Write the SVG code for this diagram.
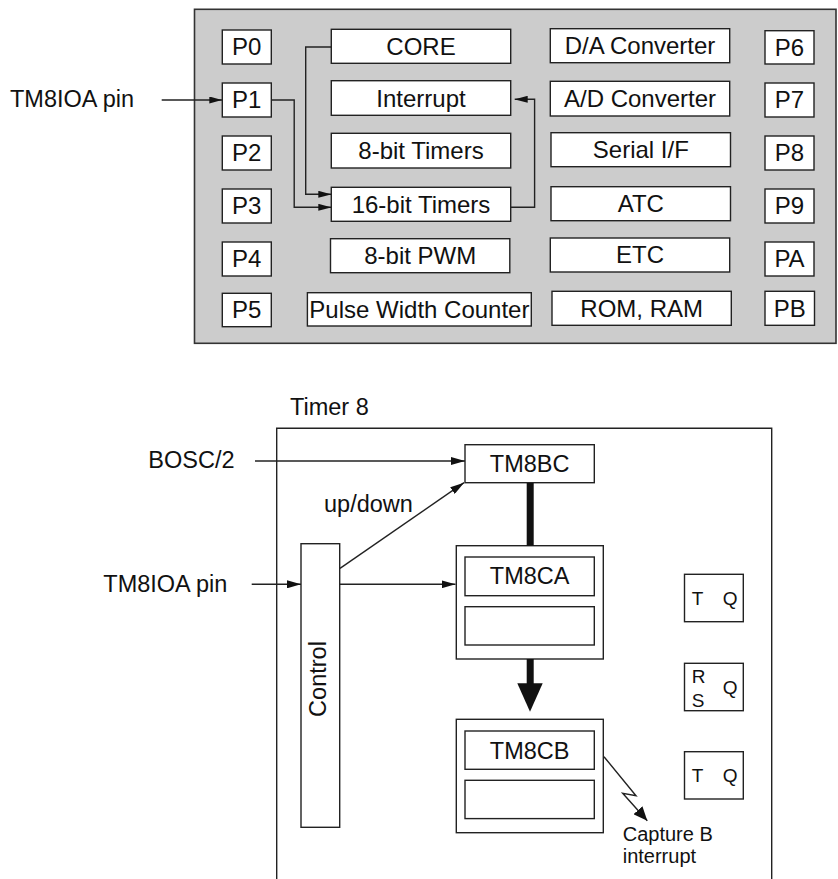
<svg xmlns="http://www.w3.org/2000/svg" width="838" height="879" viewBox="0 0 838 879">
<defs>
<style>
text{font-family:"Liberation Sans",Arial,sans-serif;fill:#111}
.t{font-size:24px;text-anchor:middle}
.b{font-size:23.5px;text-anchor:middle}
.l{font-size:23.5px}
.s{font-size:19px}
.c{font-size:20px}
.box{fill:#fff;stroke:#222;stroke-width:1.4}
.ln{fill:none;stroke:#222;stroke-width:1.4}
</style>
<marker id="ah" markerUnits="userSpaceOnUse" viewBox="0 0 14 8" refX="14" refY="4" markerWidth="14" markerHeight="8" orient="auto"><path d="M0,0 L14,4 L0,8 z" fill="#111"/></marker>
<marker id="ahs" markerUnits="userSpaceOnUse" viewBox="0 0 13 7" refX="13" refY="3.5" markerWidth="13" markerHeight="7" orient="auto"><path d="M0,0 L13,3.5 L0,7 z" fill="#111"/></marker>
<marker id="ahb" markerUnits="userSpaceOnUse" viewBox="0 0 14 12" refX="14" refY="6" markerWidth="14" markerHeight="12" orient="auto"><path d="M0,0 L14,6 L0,12 z" fill="#111"/></marker>
</defs>

<g id="panel">
<rect x="194.5" y="9.3" width="641.5" height="334" fill="#ccc" stroke="#333" stroke-width="1.6"/>
</g>

<g id="P0"><rect class="box" x="222.3" y="30" width="49" height="34"/><text class="t" x="246.8" y="55">P0</text></g>
<g id="P1"><rect class="box" x="222.3" y="83" width="49" height="34"/><text class="t" x="246.8" y="108">P1</text></g>
<g id="P2"><rect class="box" x="222.3" y="136" width="49" height="34"/><text class="t" x="246.8" y="161">P2</text></g>
<g id="P3"><rect class="box" x="222.3" y="189" width="49" height="34"/><text class="t" x="246.8" y="214">P3</text></g>
<g id="P4"><rect class="box" x="222.3" y="242" width="49" height="34"/><text class="t" x="246.8" y="267">P4</text></g>
<g id="P5"><rect class="box" x="222.3" y="293.3" width="49" height="33.4"/><text class="t" x="246.8" y="318">P5</text></g>

<g id="CORE"><rect class="box" x="331.3" y="29.3" width="179.4" height="34"/><text class="t" x="421" y="54.5">CORE</text></g>
<g id="Interrupt"><rect class="box" x="331.3" y="80.7" width="179.4" height="34.6"/><text class="t" x="421" y="106.5">Interrupt</text></g>
<g id="Timers8"><rect class="box" x="331.3" y="133.3" width="179.4" height="34.7"/><text class="t" x="421" y="159">8-bit Timers</text></g>
<g id="Timers16"><rect class="box" x="331.3" y="187.3" width="179.4" height="34"/><text class="t" x="421" y="212.5">16-bit Timers</text></g>
<g id="PWM"><rect class="box" x="330.5" y="238.7" width="179.3" height="34"/><text class="t" x="420.2" y="264">8-bit PWM</text></g>
<g id="PWC"><rect class="box" x="307.4" y="292.7" width="223.9" height="33.3"/><text class="t" x="419.4" y="317.7">Pulse Width Counter</text></g>

<g id="DA"><rect class="box" x="550.3" y="28.7" width="179.4" height="34"/><text class="t" x="640" y="54">D/A Converter</text></g>
<g id="AD"><rect class="box" x="550.3" y="81.3" width="179.4" height="34.7"/><text class="t" x="640" y="107">A/D Converter</text></g>
<g id="Serial"><rect class="box" x="551" y="132.7" width="179.5" height="34"/><text class="t" x="640.8" y="158">Serial I/F</text></g>
<g id="ATC"><rect class="box" x="551" y="186.7" width="179.5" height="34"/><text class="t" x="640.8" y="212">ATC</text></g>
<g id="ETC"><rect class="box" x="550.3" y="238" width="179.4" height="34"/><text class="t" x="640" y="263.3">ETC</text></g>
<g id="ROMRAM"><rect class="box" x="552" y="291.3" width="179.3" height="34"/><text class="t" x="641.7" y="316.5">ROM, RAM</text></g>

<g id="P6"><rect class="box" x="765" y="30.7" width="49" height="33.3"/><text class="t" x="789.5" y="55.5">P6</text></g>
<g id="P7"><rect class="box" x="765" y="83" width="49" height="34"/><text class="t" x="789.5" y="108">P7</text></g>
<g id="P8"><rect class="box" x="765" y="136" width="49" height="34"/><text class="t" x="789.5" y="161">P8</text></g>
<g id="P9"><rect class="box" x="765" y="189" width="49" height="34"/><text class="t" x="789.5" y="214">P9</text></g>
<g id="PA"><rect class="box" x="765" y="242" width="49" height="34"/><text class="t" x="789.5" y="267">PA</text></g>
<g id="PB"><rect class="box" x="765" y="291.3" width="49.5" height="34"/><text class="t" x="789.8" y="316.5">PB</text></g>

<g id="label-top"><text class="l" x="10" y="106.7">TM8IOA pin</text></g>

<g id="frame"><path class="ln" d="M276.7,890 V428.3 H771.7 V890"/><text class="l" x="290" y="415">Timer 8</text></g>
<g id="BOSC"><text class="l" x="148.3" y="468.3">BOSC/2</text></g>
<g id="label-bottom"><text class="l" x="103.3" y="591.7">TM8IOA pin</text></g>
<g id="updown"><text class="l" x="324" y="511.7">up/down</text></g>

<g id="TM8BC"><rect class="box" x="465" y="444.7" width="129.3" height="38"/><text class="b" x="529.7" y="472">TM8BC</text></g>
<g id="Control"><rect class="box" x="301" y="543.7" width="38.7" height="283.6"/><text class="b" transform="translate(326,679) rotate(-90)" x="0" y="0">Control</text></g>
<g id="TM8CA"><rect class="box" x="456.3" y="545.7" width="147" height="113.3"/><rect class="box" x="465" y="557" width="129.3" height="38.7"/><rect class="box" x="465" y="606.7" width="129.3" height="38.3"/><text class="b" x="529.7" y="584.3">TM8CA</text></g>
<g id="TM8CB"><rect class="box" x="456.3" y="719.3" width="147" height="113.4"/><rect class="box" x="465" y="731" width="129.3" height="38.3"/><rect class="box" x="465" y="780.3" width="129.3" height="38.3"/><text class="b" x="529.7" y="759.3">TM8CB</text></g>
<g id="TQ1"><rect class="box" x="684.5" y="574.3" width="58.8" height="47.4"/><text class="s" x="691.7" y="605">T</text><text class="s" x="722.7" y="605">Q</text></g>
<g id="RSQ"><rect class="box" x="684.5" y="663.3" width="58.8" height="47.4"/><text class="s" x="691.7" y="683.3">R</text><text class="s" x="691.7" y="706.7">S</text><text class="s" x="722.7" y="694.3">Q</text></g>
<g id="TQ2"><rect class="box" x="684.5" y="751.7" width="58.8" height="47.3"/><text class="s" x="691.7" y="781.7">T</text><text class="s" x="722.7" y="781.7">Q</text></g>
<g id="capture"><text class="c" x="622.7" y="840.5">Capture B</text><text class="c" x="622.7" y="863">interrupt</text></g>

<g id="connectors">
<line class="ln" x1="161.7" y1="100" x2="222.3" y2="100" marker-end="url(#ahs)"/>
<polyline class="ln" points="331.3,47 305.7,47 305.7,194.3 331.3,194.3" marker-end="url(#ahs)"/>
<polyline class="ln" points="271.3,100 294.2,100 294.2,207.3 331.3,207.3" marker-end="url(#ahs)"/>
<polyline class="ln" points="510.7,207.3 534.6,207.3 534.6,99.3 514.7,99.3" marker-end="url(#ahs)"/>
<line class="ln" x1="255" y1="461" x2="465" y2="461" marker-end="url(#ah)"/>
<line class="ln" x1="251.7" y1="584.3" x2="301" y2="584.3" marker-end="url(#ah)"/>
<line class="ln" x1="339.7" y1="584.3" x2="455.5" y2="584.3" marker-end="url(#ah)"/>
<line class="ln" x1="340" y1="568.3" x2="464" y2="482.7" marker-end="url(#ah)"/>
<rect x="526.7" y="483" width="7" height="62.7" fill="#111"/>
<rect x="526.7" y="659" width="7" height="25" fill="#111"/>
<path d="M517.3,683.3 L542.7,683.3 L530,711.7 z" fill="#111"/>
<polyline class="ln" points="604,756.7 636,795.7 622.7,793.3 647.3,820.7" marker-end="url(#ahb)"/>
</g>
</svg>
